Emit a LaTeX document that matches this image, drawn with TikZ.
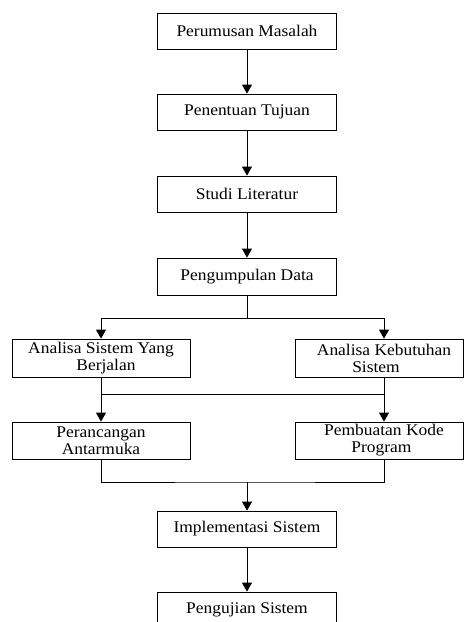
\documentclass[tikz,border=0pt]{standalone}
\usepackage{fontspec}
\setmainfont[FakeStretch=1.07]{Liberation Serif}
\usetikzlibrary{arrows.meta}
\begin{document}
\begin{tikzpicture}[x=1pt,y=-1pt,
  box/.style={draw, line width=0.8pt, rectangle, inner sep=0pt},
  lbl/.style={inner sep=0pt, align=center, font=\fontsize{16.3}{17}\selectfont},
  conn/.style={line width=0.9pt},
  arr/.style={conn, -{Triangle[width=10pt,length=9pt]}}]
\useasboundingbox (0,0) rectangle (464,622);
\clip (0,0) rectangle (464,622);
% single-column boxes
\node[box, lbl, minimum width=179pt, minimum height=36pt] (A) at (247,31) {Perumusan Masalah};
\node[box, lbl, minimum width=179pt, minimum height=36pt] (B) at (247,112) {Penentuan Tujuan};
\node[box, lbl, minimum width=179pt, minimum height=36pt] (C) at (247,194) {Studi Literatur};
\node[box, lbl, minimum width=179pt, minimum height=37pt] (D) at (247,276.5) {Pengumpulan Data};
% left / right boxes
\node[box, minimum width=178pt, minimum height=38pt] (E) at (101,358) {};
\node[lbl] (Et) at (101,358) {Analisa Sistem Yang\\Berjalan\hspace*{-10pt}};
\node[box, minimum width=168pt, minimum height=38pt] (F) at (379,358) {};
\node[lbl] (Ft) at (384,358) {Analisa Kebutuhan\\\hspace*{-16pt}Sistem};
\node[box, minimum width=178pt, minimum height=37pt] (G) at (101,440.5) {};
\node[lbl] (Gt) at (101,440.5) {Perancangan\\Antarmuka};
\node[box, minimum width=168pt, minimum height=37pt] (H) at (379,440.5) {};
\node[lbl] (Ht) at (384,440.5) {Pembuatan Kode\\\hspace*{-5pt}Program};
\node[box, lbl, minimum width=179pt, minimum height=36pt] (I) at (247,529) {Implementasi Sistem};
\node[box, lbl, minimum width=179pt, minimum height=36pt] (J) at (247,610) {Pengujian Sistem};
% reference coordinates
\coordinate (rx) at (384,0);
\coordinate (lx) at (101,0);
\coordinate (split) at (247,318);
\coordinate (mid) at (0,394);
\coordinate (join) at (247,482);
% connectors
\draw[arr] (A) -- (B);
\draw[arr] (B) -- (C);
\draw[arr] (C) -- (D);
\draw[conn] (D.south) -- (split);
\draw[arr] (split) -| (E.north -| lx);
\draw[arr] (split) -| (F.north -| rx);
\draw[arr] (E.south -| lx) -- (G.north -| lx);
\draw[arr] (F.south -| rx) -- (H.north -| rx);
\draw[conn] (mid -| lx) -- (mid -| rx);
\draw[conn] (G.south -| lx) |- (join) -| (H.south -| rx);
\draw[arr] (join) -- (I.north);
\draw[arr] (I) -- (J);
\end{tikzpicture}
\end{document}
